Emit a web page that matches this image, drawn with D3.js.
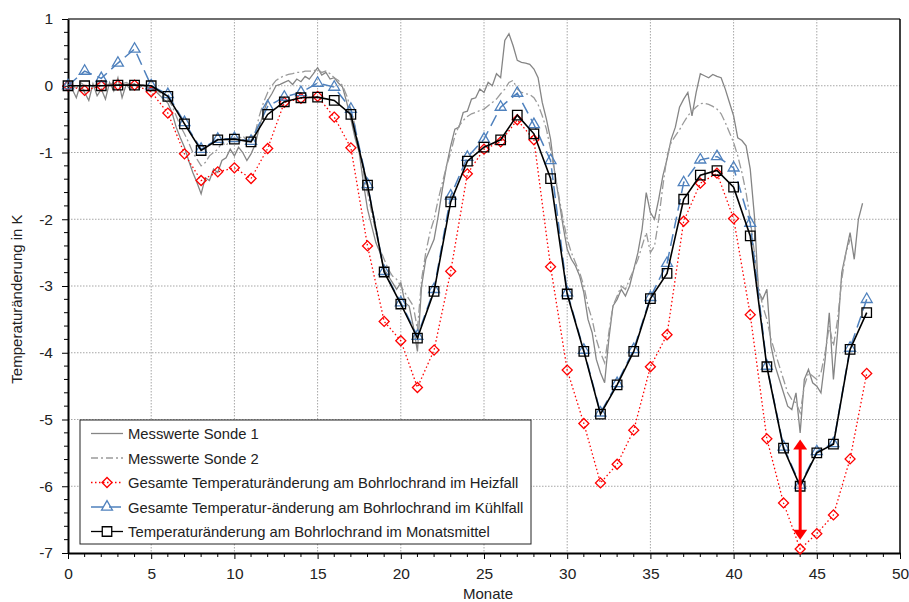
<!DOCTYPE html>
<html>
<head>
<meta charset="utf-8">
<script src="https://cdnjs.cloudflare.com/ajax/libs/d3/7.8.5/d3.min.js"></script>
<style>
  body { margin: 0; background: #fff; }
  svg { font-family: "Liberation Sans", Arial, sans-serif; }
</style>
</head>
<body>
<svg id="chart" width="909" height="602"></svg>
<script>
// monthly values (month 0..48)
var months = d3.range(0, 49);
var heizfall = [0, -0.07, 0, 0.01, 0.01, -0.09, -0.41, -1.02, -1.42, -1.29, -1.23, -1.39, -0.94, -0.25, -0.19, -0.16, -0.47, -0.93,
  -2.4, -3.53, -3.82, -4.52, -3.96, -2.78, -1.32, -0.95, -0.84, -0.51, -0.81, -2.71, -4.26, -5.06, -5.95, -5.67, -5.16, -4.21,
  -3.73, -2.03, -1.46, -1.31, -1.99, -3.43, -5.29, -6.25, -6.94, -6.71, -6.43, -5.59, -4.31];
var kuehlfall = [0, 0.22, 0.11, 0.34, 0.55, 0, -0.13, -0.55, -0.95, -0.8, -0.79, -0.83, -0.31, -0.17, -0.1, 0.04, -0.02, -0.35,
  -1.48, -2.78, -3.25, -3.75, -3.05, -1.65, -1.07, -0.8, -0.32, -0.11, -0.58, -1.12, -3.1, -3.96, -4.9, -4.46, -3.95, -3.17,
  -2.66, -1.45, -1.11, -1.06, -1.23, -2.06, -4.2, -5.41, -5.98, -5.48, -5.36, -3.93, -3.2];
var monatsmittel = [0, 0, 0, 0.01, 0.01, 0, -0.16, -0.57, -0.97, -0.81, -0.8, -0.84, -0.43, -0.24, -0.18, -0.17, -0.22, -0.43,
  -1.49, -2.79, -3.27, -3.78, -3.08, -1.74, -1.13, -0.92, -0.81, -0.44, -0.72, -1.39, -3.12, -3.98, -4.92, -4.48, -3.98, -3.19,
  -2.81, -1.7, -1.34, -1.27, -1.52, -2.25, -4.21, -5.43, -6.0, -5.5, -5.37, -3.95, -3.4];

// measured values, one reading every quarter month
var messStep = 0.25;
var sonde1 = [0, -0.05, -0.18, 0.02, -0.1, -0.22, 0.03, -0.15, -0.05, -0.2, 0.05, -0.08, 0.12, -0.18, 0.02, -0.06,
  0.03, -0.04, 0.01, -0.02, -0.04, -0.08, -0.14, -0.2, -0.26, -0.4, -0.62, -0.78, -0.92, -1.12, -1.3, -1.45,
  -1.62, -1.38, -1.42, -1.25, -1.3, -1.12, -1.08, -0.95, -1.05, -0.92, -1.0, -1.12, -1.02, -0.88, -0.62, -0.4,
  -0.22, -0.12, 0, 0.02, 0.05, 0.08, 0.02, 0.1, 0.06, 0.14, 0.1, 0.18, 0.27, 0.16, 0.2, 0.1,
  0.12, 0.04, -0.02, -0.25, -0.5, -0.78, -1.0, -1.45, -1.85, -2.1, -2.35, -2.5, -2.75, -2.85, -2.95, -3.05,
  -2.95, -3.25, -3.3, -3.6, -3.98, -3.0, -2.6, -2.45, -2.3, -1.95, -1.55, -1.2, -0.9, -0.65, -0.62, -0.4,
  -0.38, -0.2, -0.18, -0.05, -0.1, 0.05, 0, 0.18, 0.12, 0.68, 0.78, 0.6, 0.38, 0.35, 0.34, 0.32,
  0.25, 0.12, -0.25, -0.5, -0.8, -1.3, -1.7, -2.1, -2.45, -2.6, -2.7, -2.85, -3.1, -3.5, -3.7, -4.1,
  -4.3, -4.45, -3.8, -3.3, -3.2, -3.05, -3.15, -3.0, -2.75, -2.5, -2.15, -1.6, -1.9, -2.0, -1.7, -1.35,
  -1.1, -0.8, -0.62, -0.32, -0.2, -0.1, -0.45, -0.1, 0.18, 0.15, 0.12, 0.17, 0.14, 0.12, -0.05, -0.25,
  -0.45, -0.78, -0.82, -0.9, -1.25, -1.95, -3.1, -3.2, -3.05, -3.9, -4.2, -4.4, -4.6, -4.8, -4.85, -4.6,
  -5.2, -4.4, -4.25, -4.45, -4.5, -4.6, -4.1, -3.4, -4.4, -3.7, -2.8, -2.5, -2.2, -2.6, -2.0, -1.76];
var sonde2 = [0, 0.02, -0.05, 0.05, 0, 0.03, -0.02, 0.04, 0.02, 0.05, 0, 0.06, 0.08, 0.03, 0.05, 0.02,
  0.03, 0.02, 0.01, 0, -0.02, -0.05, -0.1, -0.15, -0.2, -0.3, -0.45, -0.6, -0.72, -0.85, -1.0, -1.1,
  -1.2, -1.15, -1.05, -1.0, -0.95, -0.85, -0.9, -0.8, -0.78, -0.8, -0.75, -0.82, -0.8, -0.7, -0.45, -0.25,
  -0.1, 0, 0.08, 0.12, 0.15, 0.17, 0.18, 0.2, 0.2, 0.22, 0.22, 0.22, 0.25, 0.2, 0.22, 0.18,
  0.12, 0.08, 0, -0.15, -0.35, -0.6, -0.95, -1.3, -1.6, -1.9, -2.2, -2.45, -2.6, -2.75, -2.85, -2.9,
  -3.0, -3.1, -3.2, -3.3, -3.65, -2.9, -2.5, -2.2, -2.0, -1.7, -1.45, -1.2, -1.0, -0.75, -0.6, -0.52,
  -0.46, -0.42, -0.4, -0.37, -0.35, -0.3, -0.25, -0.2, -0.12, -0.05, 0.05, 0.08, -0.05, -0.1, -0.12, -0.13,
  -0.18, -0.28, -0.45, -0.65, -0.95, -1.3, -1.65, -2.0, -2.3, -2.5, -2.65, -2.8, -3.0, -3.3, -3.5, -3.8,
  -4.0, -4.15, -3.7, -3.3, -3.15, -3.0, -3.05, -2.9, -2.75, -2.6, -2.4, -2.2, -2.5, -2.4, -2.0, -1.5,
  -1.05, -0.85, -0.75, -0.66, -0.55, -0.45, -0.38, -0.32, -0.27, -0.26, -0.28, -0.31, -0.35, -0.42, -0.55, -0.7,
  -0.85, -1.05, -1.3, -1.6, -2.0, -2.5, -3.0, -3.3, -3.5, -3.8, -4.0, -4.2, -4.4, -4.6, -4.7, -4.75,
  -4.9, -4.5, -4.3, -4.35, -4.4, -4.3, -4.0, -3.6, -3.9, -3.5, -2.9, -2.5, -2.3];

// spread marked at month 44
var spanMonth = 44;
var spanRange = [-5.3, -6.8];

var xTicks = d3.range(0, 51, 5);
var yTicks = d3.range(-7, 2, 1);

var legendLabels = [
  'Messwerte Sonde 1',
  'Messwerte Sonde 2',
  'Gesamte Temperaturänderung am Bohrlochrand im Heizfall',
  'Gesamte Temperatur-änderung am Bohrlochrand im Kühlfall',
  'Temperaturänderung am Bohrlochrand im Monatsmittel'
];

var svg = d3.select('#chart');
var plotLeft = 68, plotRight = 900, plotTop = 19, plotBottom = 553;

var x = d3.scaleLinear().domain([0, 50]).range([plotLeft, plotRight]);
var y = d3.scaleLinear().domain([-7, 1]).range([plotBottom, plotTop]);

// grid
var grid = svg.append('g');
grid.selectAll('line.v').data(xTicks.filter(function(d) { return d > 0 && d < 50; })).enter().append('line')
  .attr('x1', x).attr('x2', x).attr('y1', plotTop).attr('y2', plotBottom)
  .attr('stroke', '#a6a6a6').attr('stroke-dasharray', '1.5,1.5');
grid.selectAll('line.h').data(yTicks.filter(function(d) { return d > -7 && d < 1; })).enter().append('line')
  .attr('y1', y).attr('y2', y).attr('x1', plotLeft).attr('x2', plotRight)
  .attr('stroke', '#a6a6a6').attr('stroke-dasharray', '1.5,1.5');

// frame top and right
svg.append('line').attr('x1', plotLeft).attr('x2', plotRight).attr('y1', plotTop).attr('y2', plotTop)
  .attr('stroke', '#6e6e6e').attr('stroke-width', 2);
svg.append('line').attr('x1', plotRight).attr('x2', plotRight).attr('y1', plotTop).attr('y2', plotBottom)
  .attr('stroke', '#000').attr('stroke-width', 1.5);

// axes (plain hyphen as minus, like the original)
var fmt = function(d) { return String(d); };
var xAxis = d3.axisBottom(x).tickValues(xTicks).tickFormat(fmt).tickSize(6).tickSizeOuter(0).tickPadding(9);
var gx = svg.append('g').attr('transform', 'translate(0,' + plotBottom + ')').call(xAxis);
gx.selectAll('line.minor').data(d3.range(1, 50).filter(function(d) { return d % 5; })).enter().append('line')
  .attr('x1', x).attr('x2', x).attr('y1', 0).attr('y2', 4).attr('stroke', '#000');

var yAxis = d3.axisLeft(y).tickValues(yTicks).tickFormat(fmt).tickSize(6).tickSizeOuter(0).tickPadding(9);
var gy = svg.append('g').attr('transform', 'translate(' + plotLeft + ',0)').call(yAxis);
gy.selectAll('line.minor').data(d3.range(-7, 1.01, 0.2).filter(function(d) { return Math.abs(d - Math.round(d)) > 0.01; }))
  .enter().append('line')
  .attr('y1', y).attr('y2', y).attr('x1', -4).attr('x2', 0).attr('stroke', '#000');

[gx, gy].forEach(function(g) {
  g.select('.domain').attr('stroke', '#000').attr('stroke-width', 2);
  g.selectAll('.tick line').attr('stroke', '#000');
  g.selectAll('.tick text').attr('font-size', 15.5).attr('fill', '#222').attr('font-family', '"Liberation Sans", Arial, sans-serif');
});

svg.append('text').attr('x', (plotLeft + plotRight) / 2 + 4).attr('y', 599).attr('text-anchor', 'middle')
  .attr('font-size', 15).attr('fill', '#222').text('Monate');
svg.append('text').attr('transform', 'translate(22,' + 299 + ') rotate(-90)').attr('text-anchor', 'middle')
  .attr('font-size', 15).attr('fill', '#222').text('Temperaturänderung in K');

// series
var plot = svg.append('g');
var line = d3.line().x(function(d) { return x(d[0]); }).y(function(d) { return y(d[1]); });

function pairs(values, step) {
  return values.map(function(v, i) { return [i * step, v]; });
}

plot.append('path').datum(pairs(sonde1, messStep)).attr('d', line)
  .attr('fill', 'none').attr('stroke', '#858585').attr('stroke-width', 1.3);
plot.append('path').datum(pairs(sonde2, messStep)).attr('d', line)
  .attr('fill', 'none').attr('stroke', '#9a9a9a').attr('stroke-width', 1.3).attr('stroke-dasharray', '9,3,2,3');

var series = [
  { values: heizfall, color: '#ff0000', width: 1.3, dash: '1.5,2.5', symbol: d3.symbol().type(d3.symbolSquare).size(50), rot: 45 },
  { values: kuehlfall, color: '#4f81bd', width: 1.5, dash: '12,6', symbol: d3.symbol().type(d3.symbolTriangle).size(52), rot: 0 },
  { values: monatsmittel, color: '#000000', width: 1.6, dash: null, symbol: d3.symbol().type(d3.symbolSquare).size(90), rot: 0 }
];

series.forEach(function(s) {
  var data = months.map(function(m, i) { return [m, s.values[i]]; });
  plot.append('path').datum(data).attr('d', line)
    .attr('fill', 'none').attr('stroke', s.color).attr('stroke-width', s.width)
    .attr('stroke-dasharray', s.dash);
  plot.selectAll(null).data(data).enter().append('path')
    .attr('d', s.symbol)
    .attr('transform', function(d) { return 'translate(' + x(d[0]) + ',' + y(d[1]) + ') rotate(' + s.rot + ')'; })
    .attr('fill', 'none').attr('stroke', s.color).attr('stroke-width', 1.3);
});

// red double arrow
var ax = x(spanMonth), a1 = y(spanRange[0]), a2 = y(spanRange[1]);
plot.append('line').attr('x1', ax).attr('x2', ax).attr('y1', a1 + 8).attr('y2', a2 - 8)
  .attr('stroke', '#ff0000').attr('stroke-width', 3);
plot.append('path').attr('d', 'M' + ax + ',' + a1 + 'l-7,10h14z').attr('fill', '#ff0000');
plot.append('path').attr('d', 'M' + ax + ',' + a2 + 'l-7,-10h14z').attr('fill', '#ff0000');

// legend
var lg = svg.append('g').attr('transform', 'translate(80,420)');
lg.append('rect').attr('width', 451).attr('height', 124).attr('fill', '#fff').attr('stroke', '#222').attr('stroke-width', 1);
var legendStyle = [
  { color: '#858585', dash: null, symbol: null },
  { color: '#9a9a9a', dash: '7,3,2,3', symbol: null },
  series[0], series[1], series[2]
];
legendLabels.forEach(function(label, i) {
  var ly = 13.5 + i * 24.5;
  var st = legendStyle[i];
  var row = lg.append('g').attr('transform', 'translate(0,' + ly + ')');
  row.append('line').attr('x1', 11).attr('x2', 43).attr('y1', 0).attr('y2', 0)
    .attr('stroke', st.color).attr('stroke-width', 1.3).attr('stroke-dasharray', st.dash);
  if (st.symbol) {
    row.append('path').attr('d', st.symbol).attr('transform', 'translate(27,0) rotate(' + st.rot + ')')
      .attr('fill', i === 4 ? '#fff' : 'none').attr('stroke', st.color).attr('stroke-width', 1.3);
  }
  row.append('text').attr('x', 48).attr('y', 5.5).attr('font-size', 14.8).attr('fill', '#222').text(label);
});
</script>
</body>
</html>
